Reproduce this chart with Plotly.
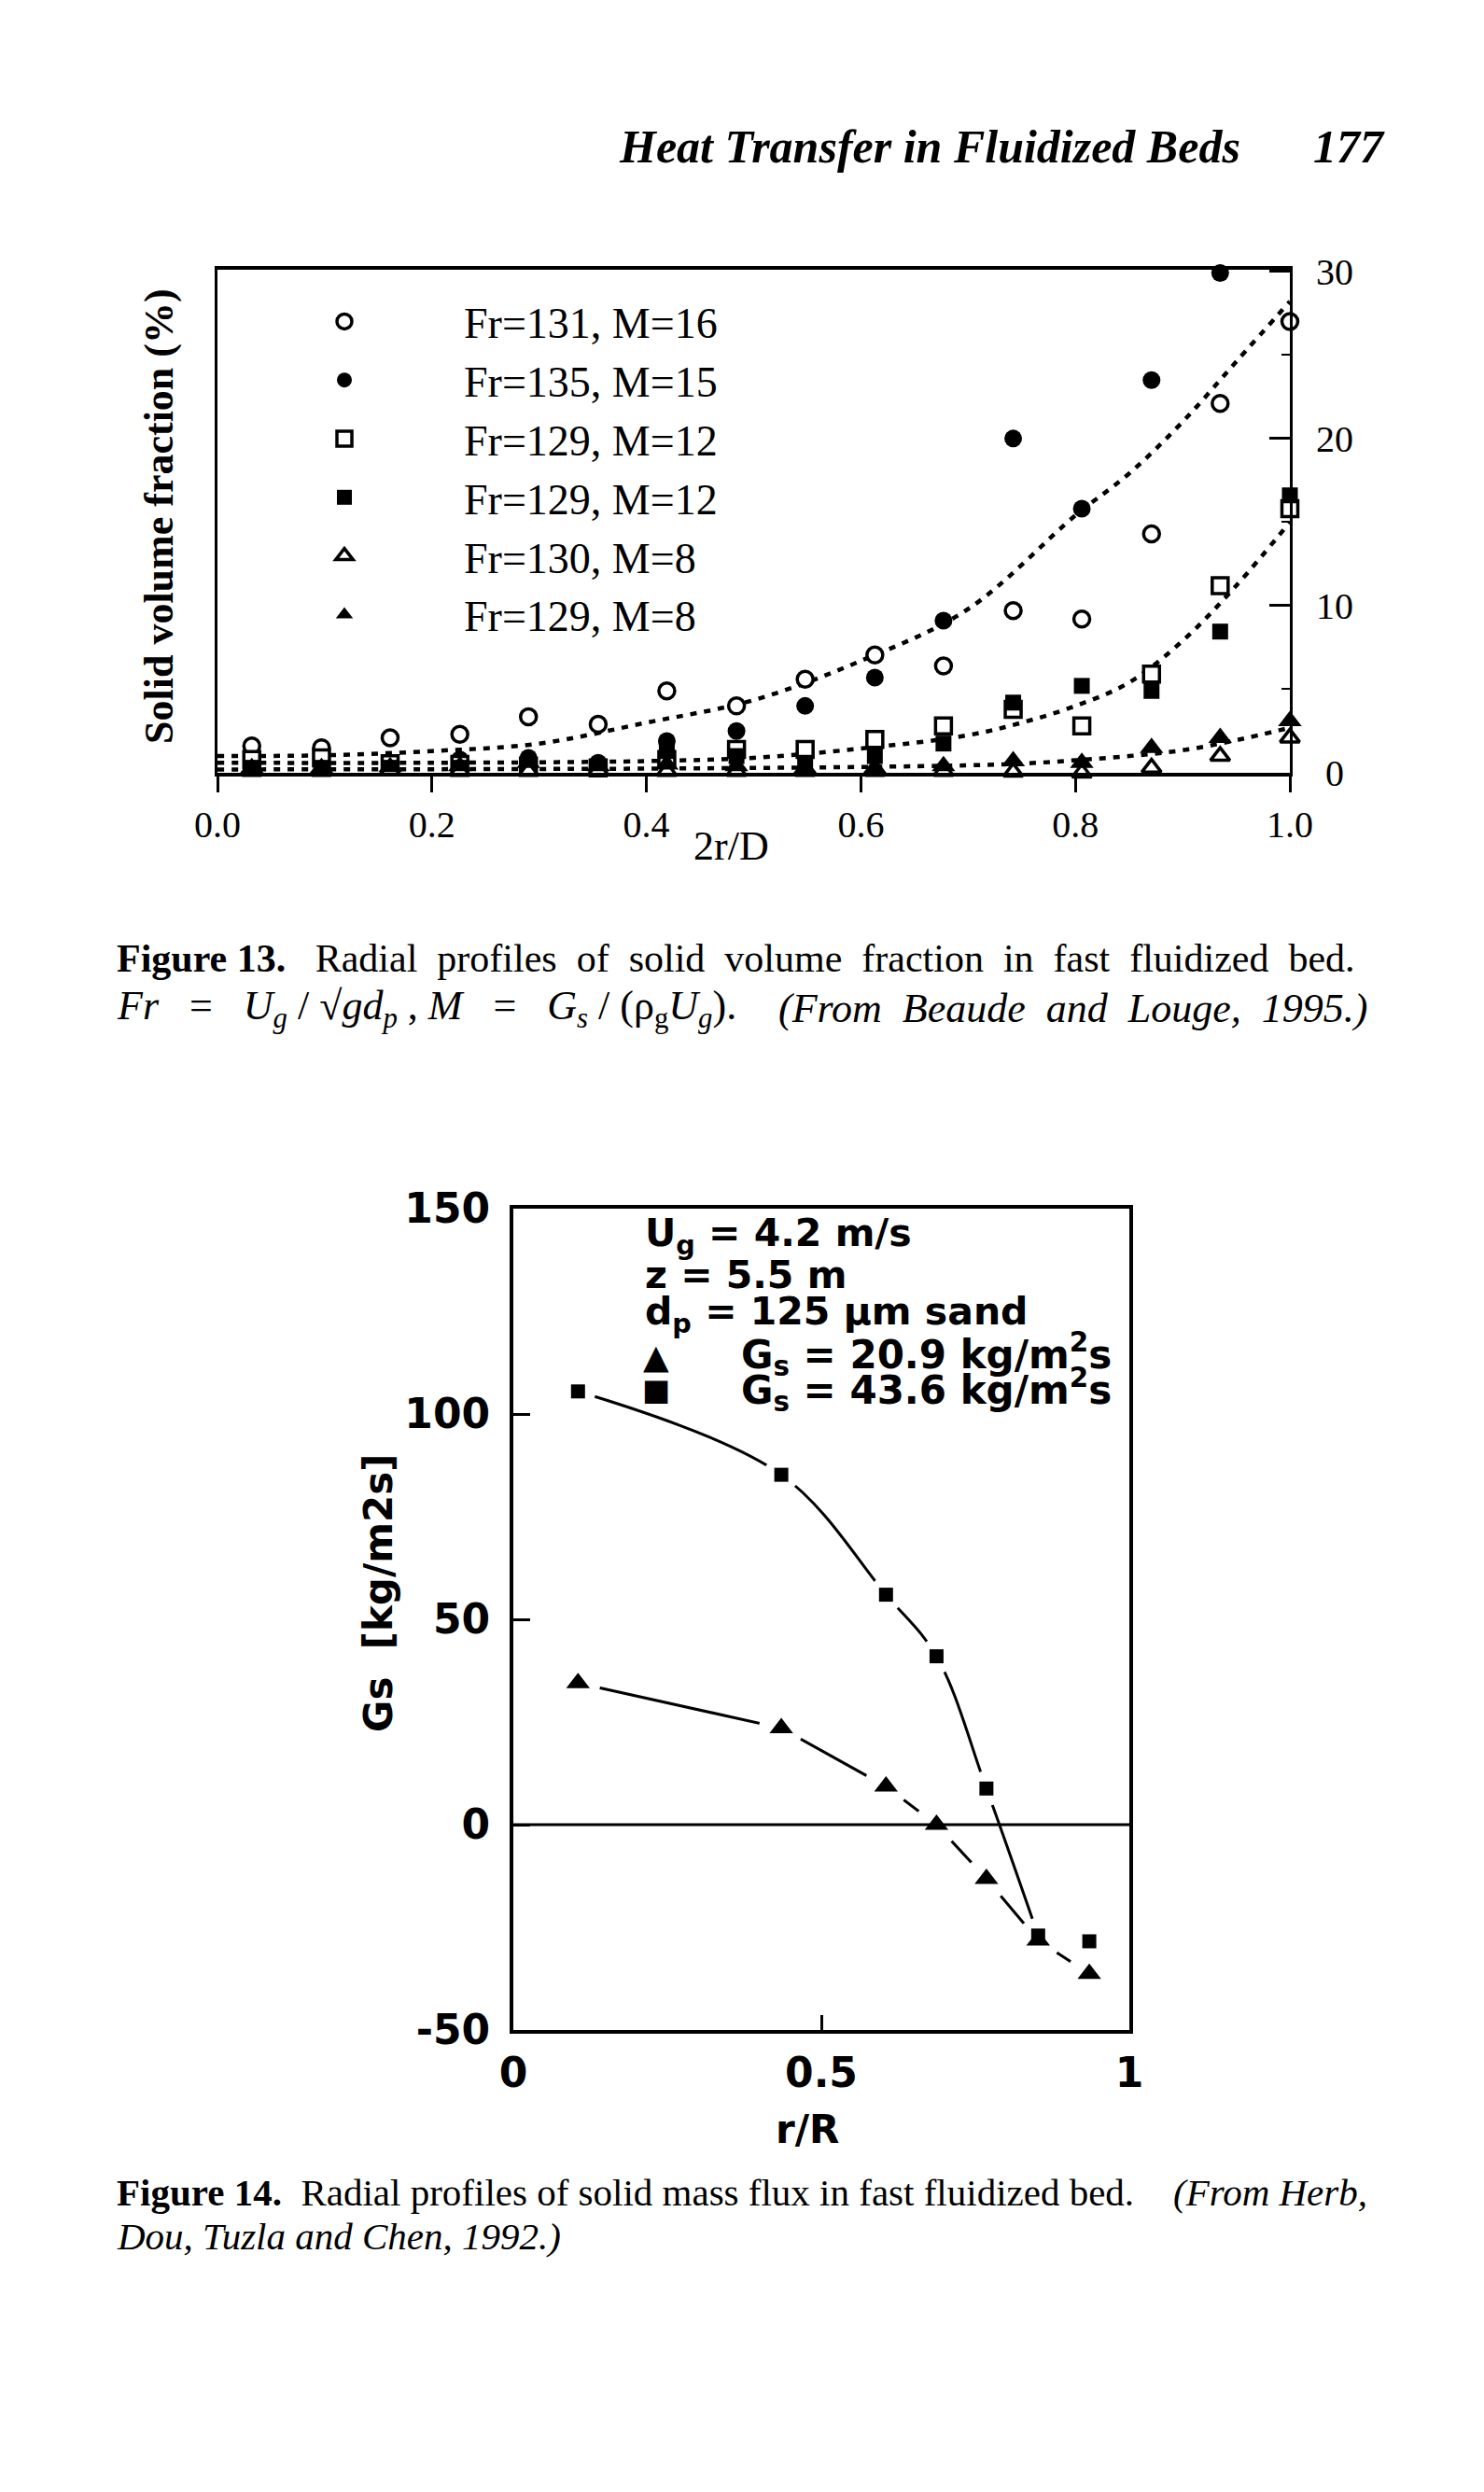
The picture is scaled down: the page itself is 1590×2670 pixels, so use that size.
import plotly.graph_objects as go

W, H = 1590, 2670

# ---------------- Figure 13 data (solid volume fraction, %) ----------------
r_pos = [0.032, 0.097, 0.161, 0.226, 0.290, 0.355, 0.419, 0.484,
         0.548, 0.613, 0.677, 0.742, 0.806, 0.871, 0.935, 1.0]
fr131_m16 = [1.6, 1.5, 2.1, 2.3, 3.35, 2.9, 4.9, 4.0, 5.6, 7.05, 6.4, 9.7, 9.2, 14.3, 22.1, 27.0]
fr135_m15 = [0.5, 0.5, 0.6, 0.8, 0.9, 0.6, 1.9, 2.5, 4.0, 5.7, 9.1, 20.0, 15.8, 23.5, 29.9, None]
fr129_m12_open = [0.8, 0.9, 0.55, 0.5, 0.4, 0.3, 0.8, 1.4, 1.4, 2.0, 2.8, 3.8, 2.8, 5.9, 11.2, 15.8]
fr129_m12_fill = [0.3, 0.3, 0.3, 0.3, 0.4, 0.3, 1.3, 1.0, 0.6, 1.0, 1.75, 4.2, 5.2, 4.9, 8.45, 16.6]
fr130_m8 = [0.1, 0.1, 0.15, 0.1, 0.1, 0.15, 0.1, 0.1, 0.1, 0.1, 0.1, 0.05, 0.0, 0.3, 1.0, 2.1]
fr129_m8 = [0.3, 0.3, 0.35, 0.4, 0.6, 0.4, 0.5, 0.4, 0.3, 0.3, 0.4, 0.7, 0.6, 1.5, 2.1, 3.1]

legend_names = ["Fr=131, M=16", "Fr=135, M=15", "Fr=129, M=12",
                "Fr=129, M=12", "Fr=130, M=8", "Fr=129, M=8"]

# dotted fitted curves
fit_hi_x = [0, 0.1, 0.2, 0.3, 0.4, 0.5, 0.6, 0.7, 0.8, 0.85, 0.9, 0.95, 1.0]
fit_hi_y = [1.0, 1.05, 1.3, 1.75, 3.0, 4.35, 6.7, 9.8, 15.4, 17.9, 21.0, 24.6, 28.2]
fit_mid_x = [0, 0.2, 0.4, 0.5, 0.6, 0.7, 0.75, 0.8, 0.85, 0.9, 0.95, 1.0]
fit_mid_y = [0.6, 0.6, 0.7, 0.9, 1.45, 2.25, 3.0, 4.0, 5.4, 7.9, 11.2, 15.0]
fit_lo_x = [0, 0.4, 0.6, 0.7, 0.75, 0.8, 0.85, 0.9, 0.95, 1.0]
fit_lo_y = [0.2, 0.25, 0.35, 0.45, 0.55, 0.75, 1.0, 1.35, 1.95, 2.7]

x13_ticks = [0.0, 0.2, 0.4, 0.6, 0.8, 1.0]
x13_labels = ["0.0", "0.2", "0.4", "0.6", "0.8", "1.0"]
y13_ticks = [0, 10, 20, 30]
y13_labels = ["\u00a00", "10", "20", "30"]

# ---------------- Figure 14 data (solid mass flux) ----------------
r_R = [0.105, 0.435, 0.605, 0.687, 0.768, 0.852, 0.935]
gs_43_6 = [105.5, 85.2, 56.0, 41.0, 8.8, -27.0, -28.4]
gs_20_9 = [34.5, 23.5, 9.3, 0.0, -13.2, -28.2, -36.3]
n_square_curve = 6   # the last square is not joined by the curve

x14_ticks = [0, 0.5, 1]
x14_labels = ["0", "0.5", "1"]
y14_ticks = [-50, 0, 50, 100, 150]
y14_labels = ["-50", "0", "50", "100", "150"]


def px(X):
    return X / W


def py(Y):
    return 1 - Y / H


SERIF = "Liberation Serif"
SANS = "DejaVu Sans"
K = "black"
NB = "\u00a0"

fig = go.Figure()

# ---- Fig 13 dotted curves
dot = "7px,8px"
for fx, fy in [(fit_hi_x, fit_hi_y), (fit_mid_x, fit_mid_y), (fit_lo_x, fit_lo_y)]:
    fig.add_trace(go.Scatter(x=fx, y=fy, mode="lines", xaxis="x", yaxis="y",
                             line=dict(color=K, width=4.5, dash=dot, shape="spline", smoothing=1),
                             showlegend=False, hoverinfo="skip"))

# ---- Fig 13 markers
series13 = [
    (fr131_m16, dict(symbol="circle", size=17, color="white", line=dict(color=K, width=3.5))),
    (fr135_m15, dict(symbol="circle", size=19, color=K, line=dict(color=K, width=0))),
    (fr129_m12_open, dict(symbol="square", size=17, color="white", line=dict(color=K, width=3.5))),
    (fr129_m12_fill, dict(symbol="square", size=17, color=K, line=dict(color=K, width=0))),
    (fr130_m8, dict(symbol="triangle-up", size=18, color="white", line=dict(color=K, width=3.5))),
    (fr129_m8, dict(symbol="triangle-up", size=22, color=K, line=dict(color=K, width=0))),
]
for (vals, mk), name in zip(series13, legend_names):
    fig.add_trace(go.Scatter(x=r_pos, y=vals, mode="markers", name=name,
                             xaxis="x", yaxis="y", marker=mk, cliponaxis=False))

# ---- Fig 14 lines, halos and markers
fig.add_trace(go.Scatter(x=r_R[:n_square_curve], y=gs_43_6[:n_square_curve], mode="lines",
                         xaxis="x2", yaxis="y2", showlegend=False,
                         line=dict(color=K, width=3, shape="spline", smoothing=1)))
fig.add_trace(go.Scatter(x=r_R, y=gs_20_9, mode="lines", xaxis="x2", yaxis="y2",
                         showlegend=False, line=dict(color=K, width=3)))
fig.add_trace(go.Scatter(x=r_R, y=gs_43_6, mode="markers", xaxis="x2", yaxis="y2",
                         showlegend=False, hoverinfo="skip",
                         marker=dict(symbol="circle", size=38, color="white")))
fig.add_trace(go.Scatter(x=r_R, y=gs_20_9, mode="markers", xaxis="x2", yaxis="y2",
                         showlegend=False, hoverinfo="skip",
                         marker=dict(symbol="circle", size=48, color="white")))
fig.add_trace(go.Scatter(x=r_R, y=gs_43_6, mode="markers", xaxis="x2", yaxis="y2",
                         showlegend=False, name="Gs = 43.6 kg/m2s",
                         marker=dict(symbol="square", size=15, color=K)))
fig.add_trace(go.Scatter(x=r_R, y=gs_20_9, mode="markers", xaxis="x2", yaxis="y2",
                         showlegend=False, name="Gs = 20.9 kg/m2s",
                         marker=dict(symbol="triangle-up", size=22, color=K)))

# ---- annotations (page text)
ann = []


def text(X, Y, s, size, family=SERIF, xanchor="left", angle=0, weight=None):
    f = dict(family=family, size=size, color=K)
    if weight:
        f["weight"] = weight
    ann.append(dict(x=px(X), y=py(Y), xref="paper", yref="paper", text=s, showarrow=False,
                    xanchor=xanchor, yanchor="middle", font=f, textangle=angle))


# running head
text(661, 157, "<b><i>Heat Transfer in Fluidized Beds</i></b>", 50)
text(1445, 157, "<b><i>177</i></b>", 50, xanchor="center")

# figure 13 axis titles
text(170, 553, "<b>Solid volume fraction (%)</b>", 44, angle=-90, xanchor="center")
text(783, 906, "2r/D", 44, xanchor="center")

# figure 13 caption (justified line: widened word gaps)
cap13 = "Radial profiles of solid volume fraction in fast fluidized bed.".replace(" ", " " + NB)
text(123, 1027, "<b>Figure 13.</b>" + NB + NB + NB + cap13, 42)
S2 = NB + NB + " "
text(123, 1080, "<i>Fr</i>" + S2 + "=" + S2 + "<i>U<sub>g</sub></i>" + NB + "/" + NB
     + "√<i>gd<sub>p</sub></i>" + NB + ", <i>M</i>" + S2 + "=" + S2
     + "<i>G<sub>s</sub></i>" + NB + "/" + NB + "(ρ<sub>g</sub><i>U<sub>g</sub></i>).", 44)
text(1467, 1080, "<i>(From" + NB + " Beaude" + NB + " and" + NB + " Louge," + NB + " 1995.)</i>",
     44, xanchor="right")

# figure 14 axis titles
text(405, 1707, "Gs  [kg/m2s]", 42, family=SANS, angle=-90, xanchor="center", weight="bold")
text(865, 2281, "r/R", 42, family=SANS, xanchor="center", weight="bold")

# figure 14 in-plot key
text(689, 1324, "U<sub>g</sub> = 4.2 m/s", 41, family=SANS, weight="bold")
text(689, 1366, "z = 5.5 m", 41, family=SANS, weight="bold")
text(689, 1408, "d<sub>p</sub> = 125 μm sand", 41, family=SANS, weight="bold")
text(703, 1453, "▲", 36, family=SANS, xanchor="center", weight="bold")
text(792, 1451, "G<sub>s</sub> = 20.9 kg/m<sup>2</sup>s", 42, family=SANS, weight="bold")
text(703, 1489, "■", 32, family=SANS, xanchor="center", weight="bold")
text(792, 1489, "G<sub>s</sub> = 43.6 kg/m<sup>2</sup>s", 42, family=SANS, weight="bold")

# figure 14 caption
text(123, 2349, "<b>Figure 14.</b>" + NB + " Radial profiles of solid mass flux in fast fluidized bed.", 41)
text(1467, 2349, "<i>(From Herb,</i>", 41, xanchor="right")
text(123, 2396, "<i>Dou, Tuzla and Chen, 1992.)</i>", 41)

# zero line of figure 14 drawn above the halos
shapes = [dict(type="line", xref="x2 domain", yref="y2", x0=0, x1=1, y0=0, y1=0,
               line=dict(color=K, width=3), layer="above")]

fig.update_layout(
    width=W, height=H, autosize=False,
    margin=dict(l=0, r=0, t=0, b=0, pad=0, autoexpand=False),
    paper_bgcolor="white", plot_bgcolor="white",
    annotations=ann, shapes=shapes,
    showlegend=True,
    legend=dict(x=px(241), y=py(308), xanchor="left", yanchor="top",
                font=dict(family=SERIF, size=46, color=K), itemwidth=246,
                itemsizing="trace", bgcolor="rgba(0,0,0,0)", borderwidth=0,
                traceorder="normal", tracegroupgap=0),
    xaxis=dict(domain=[px(233), px(1382)], range=[0, 1], anchor="y",
               tickvals=x13_ticks, ticktext=x13_labels, ticks="outside", ticklen=17,
               tickwidth=3, tickcolor=K, showline=True, linewidth=4, linecolor=K,
               mirror=True, showgrid=False, zeroline=False, automargin=False,
               tickfont=dict(family=SERIF, size=40, color=K), ticklabelstandoff=0),
    yaxis=dict(domain=[py(828), py(289)], range=[0, 30.1], anchor="x", side="right",
               tickvals=y13_ticks, ticktext=y13_labels, ticks="inside", ticklen=22,
               tickwidth=3, tickcolor=K,
               minor=dict(tickvals=[5, 15, 25], ticks="inside", ticklen=9, tickwidth=2,
                          tickcolor=K, showgrid=False),
               showline=True, linewidth=3, linecolor=K, mirror=True, showgrid=False,
               zeroline=False, automargin=False,
               tickfont=dict(family=SERIF, size=40, color=K), ticklabelstandoff=17),
    xaxis2=dict(domain=[px(550), px(1210)], range=[0, 1], anchor="y2",
                tickvals=x14_ticks, ticktext=x14_labels, ticks="inside", ticklen=16,
                tickwidth=3, tickcolor=K, showline=True, linewidth=4, linecolor=K,
                mirror=True, showgrid=False, zeroline=False, automargin=False,
                tickfont=dict(family=SANS, size=44, color=K, weight="bold"),
                ticklabelstandoff=4),
    yaxis2=dict(domain=[py(2175), py(1295)], range=[-50, 150], anchor="x2",
                tickvals=y14_ticks, ticktext=y14_labels, ticks="inside", ticklen=18,
                tickwidth=3, tickcolor=K, showline=True, linewidth=4, linecolor=K,
                mirror=True, showgrid=False, zeroline=False, automargin=False,
                tickfont=dict(family=SANS, size=44, color=K, weight="bold"),
                ticklabelstandoff=12),
)

fig.write_html("out.html")
